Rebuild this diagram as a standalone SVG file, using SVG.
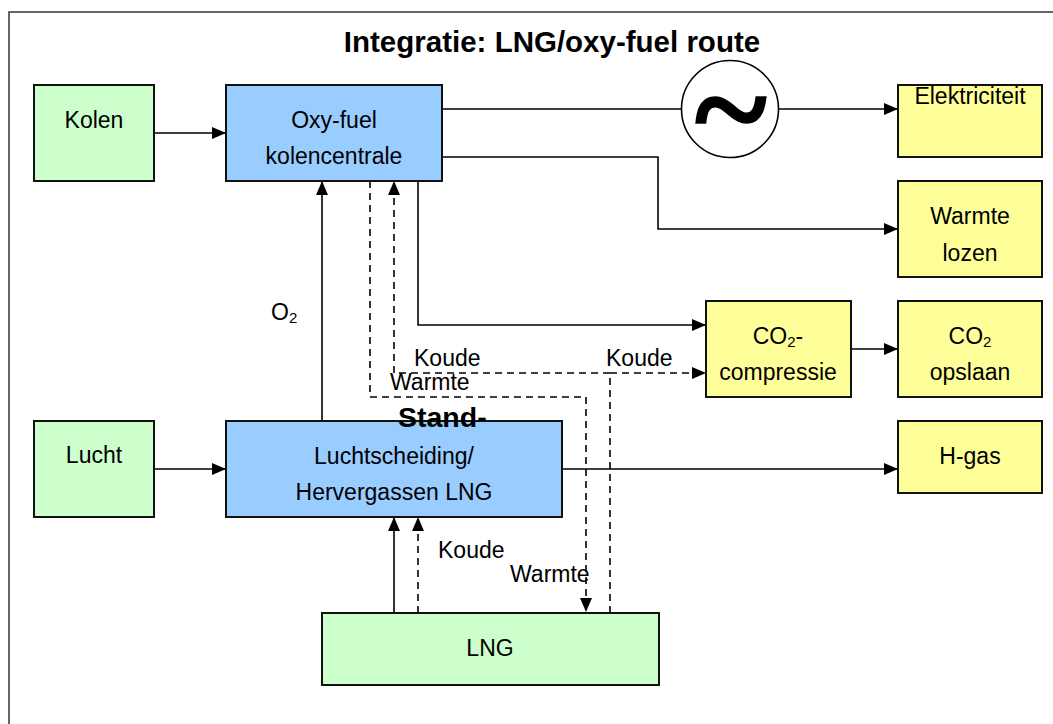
<svg xmlns="http://www.w3.org/2000/svg" width="1053" height="724" viewBox="0 0 1053 724">
<style>
.box{stroke:#111;stroke-width:2}
.g{fill:#CCFFCC}.b{fill:#99CCFF}.y{fill:#FFFF99}
text{font-family:"Liberation Sans",Arial,sans-serif;font-size:23px;fill:#000}
.c{text-anchor:middle}
.bold{font-weight:bold;font-size:28.5px}
.title{font-size:29.5px}
.ln{fill:none;stroke:#000;stroke-width:1.6}
.d{stroke-dasharray:7 5}
</style>
<defs>
<marker id="ah" markerUnits="userSpaceOnUse" markerWidth="14" markerHeight="12" refX="14" refY="6" orient="auto">
<path d="M0,0 L14,6 L0,12 z" fill="#000"/>
</marker>
</defs>
<rect x="9" y="12" width="1100" height="800" fill="#fff" stroke="#333" stroke-width="1.5"/>
<text class="c bold title" x="552" y="52">Integratie: LNG/oxy-fuel route</text>

<g id="connectors">
<path class="ln" d="M154,133 H226" marker-end="url(#ah)"/>
<path class="ln" d="M154,469 H226" marker-end="url(#ah)"/>
<path class="ln" d="M322,421 V181" marker-end="url(#ah)"/>
<path class="ln" d="M442,109 H682"/>
<path class="ln" d="M779,109 H898" marker-end="url(#ah)"/>
<path class="ln" d="M442,157 H658 V229 H898" marker-end="url(#ah)"/>
<path class="ln" d="M418,181 V325 H706" marker-end="url(#ah)"/>
<path class="ln" d="M851,349 H898" marker-end="url(#ah)"/>
<path class="ln" d="M562,469 H898" marker-end="url(#ah)"/>
<path class="ln" d="M394,613 V517" marker-end="url(#ah)"/>
<path class="ln d" d="M418,613 V517" marker-end="url(#ah)"/>
<path class="ln d" d="M370,181 V397 H586 V612" marker-end="url(#ah)"/>
<path class="ln d" d="M610,613 V373 H706" marker-end="url(#ah)"/>
<path class="ln d" d="M610,373 H394 V181" marker-end="url(#ah)"/>
</g>

<g id="generator">
<circle cx="730" cy="109" r="48.5" fill="#fff" stroke="#000" stroke-width="1.6"/>
<text x="731" y="155" text-anchor="middle" style="font-family:'Liberation Serif','Times New Roman',serif;font-weight:bold;font-size:138px;stroke:#000;stroke-width:1.5">~</text>
</g>

<g id="kolen"><rect class="box g" x="34" y="85" width="120" height="96"/><text class="c" x="94" y="128">Kolen</text></g>
<g id="lucht"><rect class="box g" x="34" y="421" width="120" height="96"/><text class="c" x="94" y="463">Lucht</text></g>
<g id="oxyfuel"><rect class="box b" x="226" y="85" width="216" height="96"/><text class="c" x="334" y="128">Oxy-fuel</text><text class="c" x="334" y="164">kolencentrale</text></g>
<g id="luchtscheiding"><rect class="box b" x="226" y="421" width="336" height="96"/><text class="c" x="394" y="464">Luchtscheiding/</text><text class="c" x="394" y="500">Hervergassen LNG</text></g>
<g id="elektriciteit"><rect class="box y" x="898" y="85" width="144" height="72"/><text class="c" x="970" y="104">Elektriciteit</text></g>
<g id="warmtelozen"><rect class="box y" x="898" y="181" width="144" height="96"/><text class="c" x="970" y="224">Warmte</text><text class="c" x="970" y="261">lozen</text></g>
<g id="co2compressie"><rect class="box y" x="706" y="301" width="145" height="96"/><text class="c" x="778" y="344">CO<tspan font-size="15" dy="3">2</tspan><tspan dy="-3">-</tspan></text><text class="c" x="778" y="380">compressie</text></g>
<g id="co2opslaan"><rect class="box y" x="898" y="301" width="144" height="96"/><text class="c" x="970" y="344">CO<tspan font-size="15" dy="3">2</tspan></text><text class="c" x="970" y="380">opslaan</text></g>
<g id="hgas"><rect class="box y" x="898" y="421" width="144" height="72"/><text class="c" x="970" y="464">H-gas</text></g>
<g id="lng"><rect class="box g" x="322" y="613" width="337" height="72"/><text class="c" x="490" y="656">LNG</text></g>

<g id="labels">
<text x="271" y="320">O<tspan font-size="15" dy="3">2</tspan></text>
<text x="414" y="366">Koude</text>
<text x="606" y="366">Koude</text>
<text x="390" y="390">Warmte</text>
<text x="438" y="558">Koude</text>
<text x="510" y="582">Warmte</text>
<text class="bold" x="398" y="427">Stand-</text>
</g>
</svg>
